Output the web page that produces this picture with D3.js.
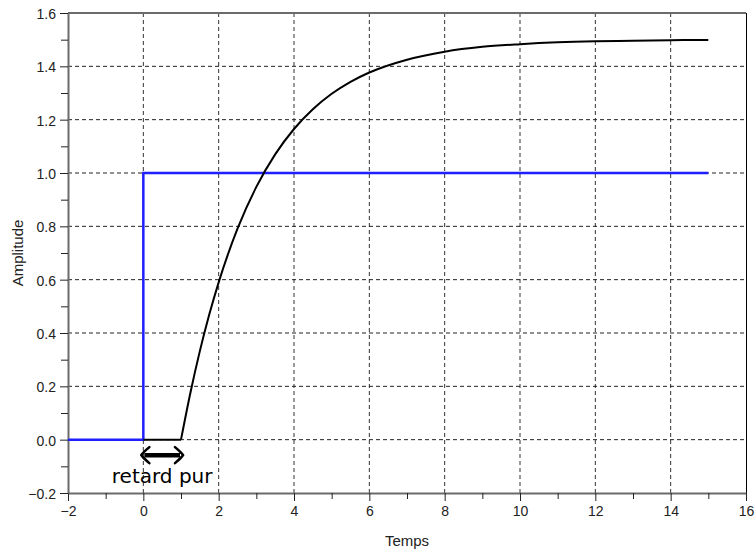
<!DOCTYPE html>
<html>
<head>
<meta charset="utf-8">
<script src="https://cdn.jsdelivr.net/npm/d3@7"></script>
<style>
  body { margin: 0; background: #fff; }
  svg { display: block; }
</style>
</head>
<body>
<div id="chart"></div>
<script>
// x ticks, y ticks
const xMajor = [-2, 0, 2, 4, 6, 8, 10, 12, 14, 16],
    xMinor = [-1, 1, 3, 5, 7, 9, 11, 13, 15],
    yMajor = [-0.2, 0, 0.2, 0.4, 0.6, 0.8, 1.0, 1.2, 1.4, 1.6],
    yMinor = [-0.1, 0.1, 0.3, 0.5, 0.7, 0.9, 1.1, 1.3, 1.5];

// entrée échelon (bleu)
const stepT = [-2, 0, 0, 15],
    stepY = [0, 0, 1, 1];

// sortie avec retard pur (noir)
const respT = [0, 1, 1.25, 1.5, 1.75, 2, 2.5, 3, 3.5, 4, 4.5, 5, 5.5, 6, 7, 8, 9, 10, 11, 12, 13, 14, 15],
    respY = [0, 0, 0.176, 0.332, 0.469, 0.590, 0.791, 0.948, 1.070, 1.165, 1.239, 1.297, 1.342, 1.377, 1.425, 1.455, 1.473, 1.483, 1.490, 1.494, 1.496, 1.498, 1.499];

const delayFrom = 0, delayTo = 1, delayY = -0.058;

const width = 756, height = 550,
    margin = {top: 13, right: 10, bottom: 57, left: 68};

const x = d3.scaleLinear().domain([-2, 16]).range([margin.left, width - margin.right]);
const y = d3.scaleLinear().domain([-0.2, 1.6]).range([height - margin.bottom, margin.top]);

const svg = d3.select("#chart").append("svg")
    .attr("width", width)
    .attr("height", height);

const axisColor = "#6b6b6b";

// grille
svg.append("g").selectAll("line")
    .data(xMajor.filter(d => d > -2 && d < 16))
  .enter().append("line")
    .attr("x1", d => x(d)).attr("x2", d => x(d))
    .attr("y1", y(-0.2)).attr("y2", y(1.6))
    .attr("stroke", "#333").attr("stroke-width", 1)
    .attr("stroke-dasharray", "4,3");

svg.append("g").selectAll("line")
    .data(yMajor.filter(d => d > -0.2 && d < 1.6))
  .enter().append("line")
    .attr("x1", x(-2)).attr("x2", x(16))
    .attr("y1", d => y(d)).attr("y2", d => y(d))
    .attr("stroke", "#222").attr("stroke-width", 1)
    .attr("stroke-dasharray", "4,3");

// cadre haut / droite
svg.append("line")
    .attr("x1", x(-2)).attr("x2", x(16))
    .attr("y1", y(1.6)).attr("y2", y(1.6))
    .attr("stroke", axisColor).attr("stroke-width", 2);
svg.append("line")
    .attr("x1", x(16) + 0.5).attr("x2", x(16) + 0.5)
    .attr("y1", y(1.6)).attr("y2", y(-0.2))
    .attr("stroke", "#000").attr("stroke-width", 1);

// axes
const fmtY = d => d3.format(".1f")(d).replace("-", "\u2212");
const fmtX = d => String(d).replace("-", "\u2212");

function styleAxis(g) {
  g.select(".domain").attr("stroke", axisColor).attr("stroke-width", 2);
  g.selectAll(".tick line").attr("stroke", "#222").attr("stroke-width", 1);
  g.selectAll(".tick text")
    .attr("fill", "#222")
    .style("font-family", "'Liberation Sans', Arial, sans-serif")
    .style("font-size", "14px");
}

const gx = svg.append("g")
    .attr("transform", "translate(0," + y(-0.2) + ")")
    .call(d3.axisBottom(x).tickValues(xMajor).tickFormat(fmtX).tickSize(8).tickPadding(5).tickSizeOuter(0));
styleAxis(gx);

svg.append("g")
    .attr("transform", "translate(0," + y(-0.2) + ")")
    .call(d3.axisBottom(x).tickValues(xMinor).tickFormat("").tickSize(6).tickSizeOuter(0))
    .call(g => g.select(".domain").remove())
    .call(g => g.selectAll(".tick line").attr("stroke", "#222"));

const gy = svg.append("g")
    .attr("transform", "translate(" + x(-2) + ",0)")
    .call(d3.axisLeft(y).tickValues(yMajor).tickFormat(fmtY).tickSize(8).tickPadding(4).tickSizeOuter(0));
styleAxis(gy);
gy.selectAll(".tick text").attr("dy", "0.4em");

svg.append("g")
    .attr("transform", "translate(" + x(-2) + ",0)")
    .call(d3.axisLeft(y).tickValues(yMinor).tickFormat("").tickSize(7).tickSizeOuter(0))
    .call(g => g.select(".domain").remove())
    .call(g => g.selectAll(".tick line").attr("stroke", "#222"));

// titres d'axes
svg.append("text")
    .attr("x", (x(-2) + x(16)) / 2)
    .attr("y", 546)
    .attr("text-anchor", "middle")
    .attr("fill", "#222")
    .style("font-family", "'Liberation Sans', Arial, sans-serif")
    .style("font-size", "15px")
    .text("Temps");

svg.append("text")
    .attr("transform", "translate(23," + (y(0.7)) + ") rotate(-90)")
    .attr("text-anchor", "middle")
    .attr("fill", "#222")
    .style("font-family", "'Liberation Sans', Arial, sans-serif")
    .style("font-size", "15px")
    .text("Amplitude");

// courbes
const stepLine = d3.line()
    .x((d, i) => x(stepT[i]))
    .y(d => y(d));

svg.append("path")
    .attr("d", stepLine(stepY))
    .attr("fill", "none")
    .attr("stroke", "#1f1fff")
    .attr("stroke-width", 2.5);

const flat = respT.map((t, i) => [t, respY[i]]).filter(d => d[0] <= 1);
const rise = respT.map((t, i) => [t, respY[i]]).filter(d => d[0] >= 1);

svg.append("path")
    .attr("d", d3.line().x(d => x(d[0])).y(d => y(d[1]))(flat))
    .attr("fill", "none")
    .attr("stroke", "#000")
    .attr("stroke-width", 2);

svg.append("path")
    .attr("d", d3.line().curve(d3.curveMonotoneX).x(d => x(d[0])).y(d => y(d[1]))(rise))
    .attr("fill", "none")
    .attr("stroke", "#000")
    .attr("stroke-width", 2);

// flèche retard pur
const ax0 = x(delayFrom), ax1 = x(delayTo), ay = y(delayY);
svg.append("line")
    .attr("x1", ax0 + 1).attr("x2", ax1 - 1)
    .attr("y1", ay).attr("y2", ay)
    .attr("stroke", "#000").attr("stroke-width", 4.5);
svg.append("path")
    .attr("d", "M" + (ax0 + 6) + "," + (ay - 8) + "Q" + (ax0 - 1) + "," + (ay - 2) + " " + (ax0 - 2) + "," + ay
      + "Q" + (ax0 - 1) + "," + (ay + 2) + " " + (ax0 + 6) + "," + (ay + 8)
      + "M" + (ax1 - 6) + "," + (ay - 8) + "Q" + (ax1 + 1) + "," + (ay - 2) + " " + (ax1 + 2) + "," + ay
      + "Q" + (ax1 + 1) + "," + (ay + 2) + " " + (ax1 - 6) + "," + (ay + 8))
    .attr("fill", "none")
    .attr("stroke", "#000")
    .attr("stroke-width", 2.6)
    .attr("stroke-linecap", "round");

svg.append("text")
    .attr("x", x((delayFrom + delayTo) / 2))
    .attr("y", 483)
    .attr("text-anchor", "middle")
    .attr("fill", "#000")
    .style("font-family", "'DejaVu Sans', sans-serif")
    .style("font-size", "20px")
    .text("retard pur");
</script>
</body>
</html>
